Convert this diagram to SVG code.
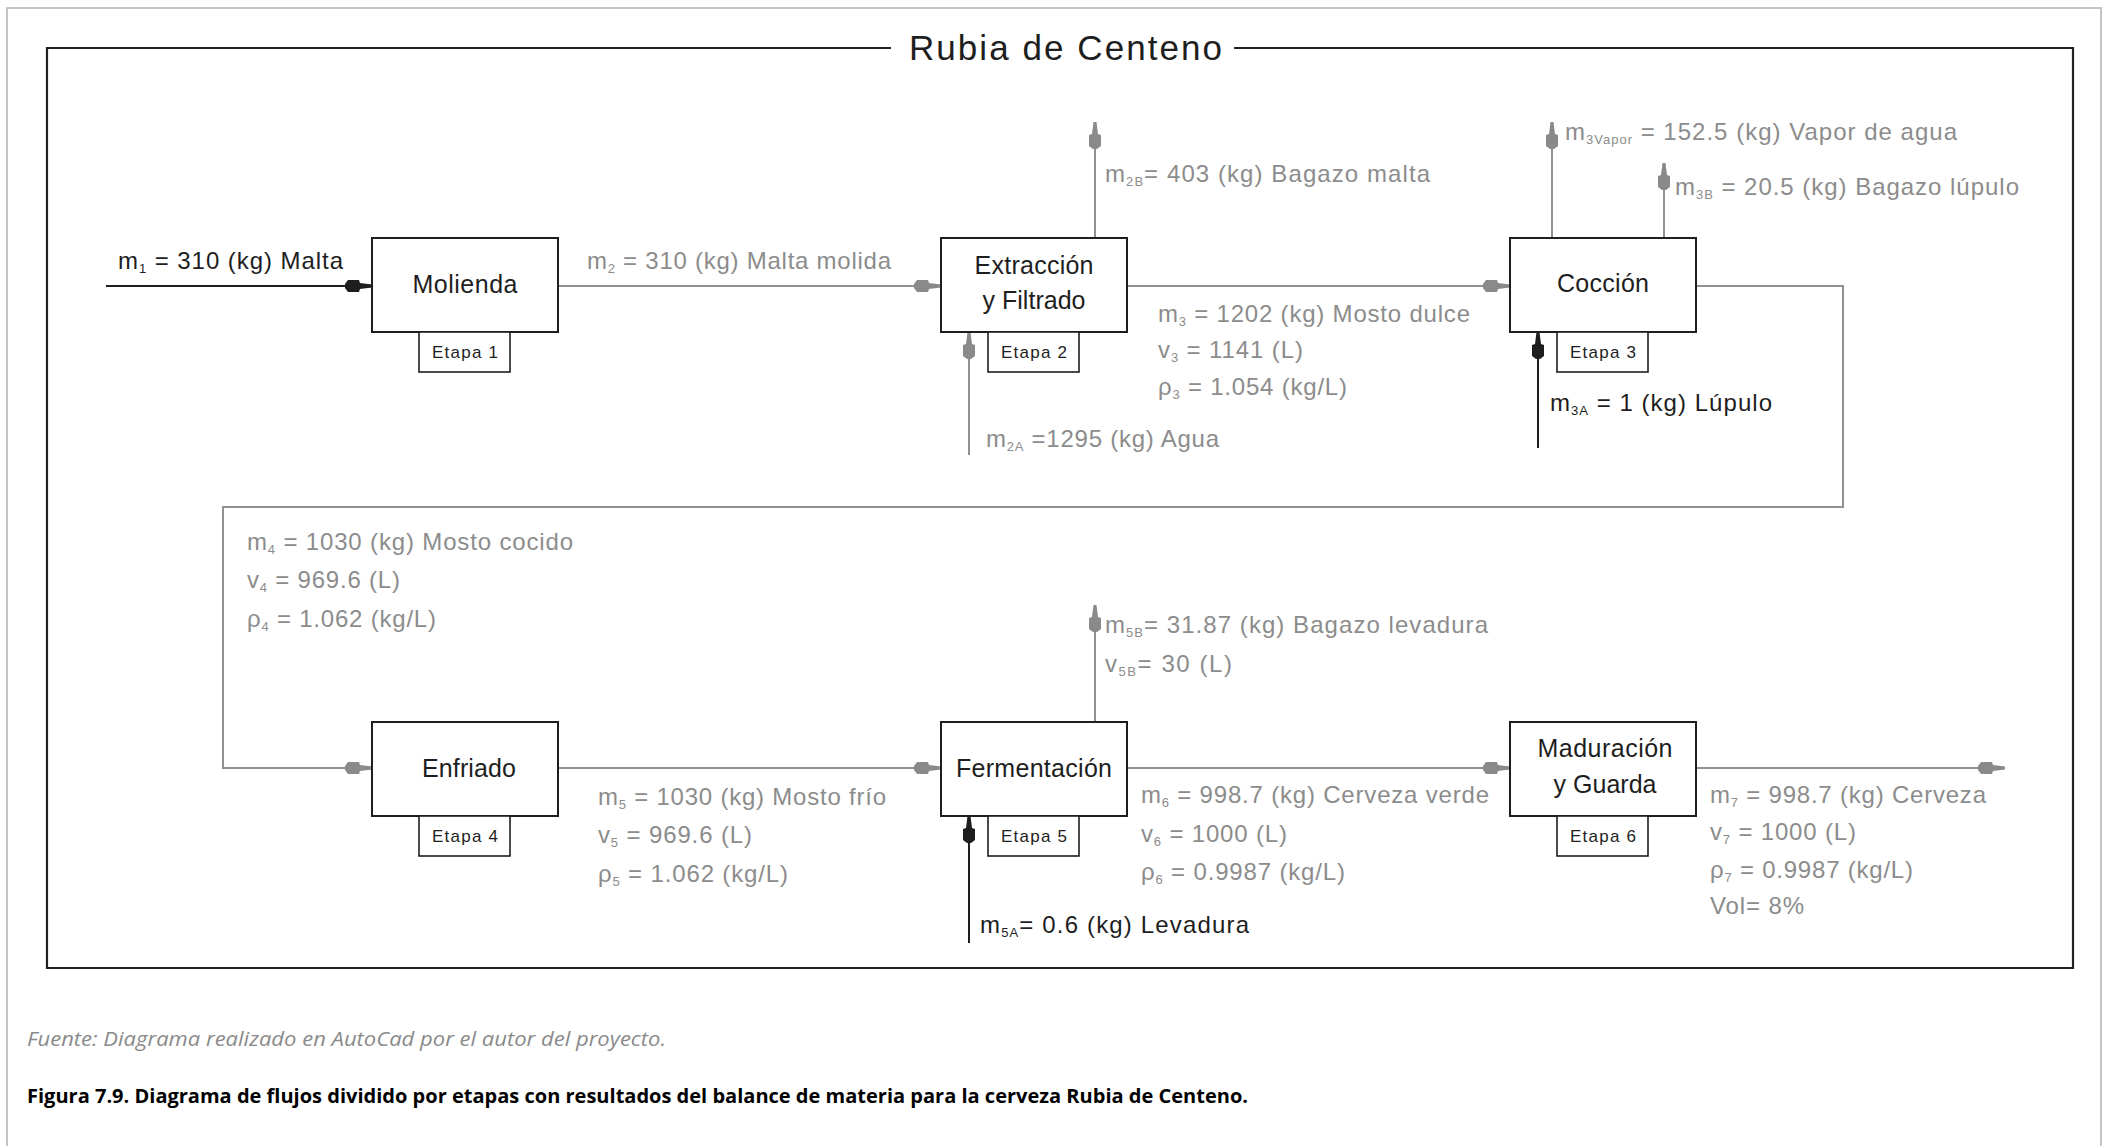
<svg xmlns="http://www.w3.org/2000/svg" width="2109" height="1146" viewBox="0 0 2109 1146">
<style>
text{font-family:"Liberation Sans",Arial,sans-serif}
.lg{font-size:24px;fill:#8c8c8c}
.lb{font-size:24px;fill:#1e1e1e}
.sub{font-size:13px}
.box{fill:#fff;stroke:#1e1e1e;stroke-width:2}
.et{fill:#fff;stroke:#1e1e1e;stroke-width:1.6}
.bl{font-size:25px;fill:#1e1e1e;text-anchor:middle}
.el{font-size:17px;fill:#1e1e1e;text-anchor:middle}
.cg{fill:none;stroke:#909090;stroke-width:2;marker-end:url(#ag)}
.cb{fill:none;stroke:#1e1e1e;stroke-width:2;marker-end:url(#ab)}
.foot{font-family:"Open Sans","Noto Sans",sans-serif}
</style>
<defs>
<marker id="ag" viewBox="-28 -7 29 14" refX="0" refY="0" markerWidth="29" markerHeight="14" markerUnits="userSpaceOnUse" orient="auto">
<path d="M0,-1.5 L-12,-3 L-13,-6 L-24,-6 L-27,-2 L-27,2 L-24,6 L-13,6 L-12,3 L0,1.5 Z" fill="#8a8a8a"/>
</marker>
<marker id="ab" viewBox="-28 -7 29 14" refX="0" refY="0" markerWidth="29" markerHeight="14" markerUnits="userSpaceOnUse" orient="auto">
<path d="M0,-1.5 L-12,-3 L-13,-6 L-24,-6 L-27,-2 L-27,2 L-24,6 L-13,6 L-12,3 L0,1.5 Z" fill="#1e1e1e"/>
</marker>
</defs>
<rect width="2109" height="1146" fill="#fff"/>
<path d="M7,1146 V8 H2101 V1146" fill="none" stroke="#c4c4c4" stroke-width="2"/>
<g id="frame">
<path d="M891,48 H47 V968 H2073 V48 H1234" fill="none" stroke="#222" stroke-width="2.2"/>
<text x="909" y="60" font-size="35" fill="#1e1e1e" textLength="313">Rubia de Centeno</text>
</g>

<g id="connectors">
<path class="cb" d="M106,286 H372"/>
<path class="cg" d="M558,286 H941"/>
<path class="cg" d="M1127,286 H1510"/>
<path class="cg" d="M969,455 V332"/>
<path class="cg" d="M1095,238 V122"/>
<path class="cg" d="M1552,238 V122"/>
<path class="cg" d="M1664,238 V163"/>
<path class="cb" d="M1538,448 V332"/>
<path class="cg" d="M1696,286 H1843 V507 H223 V768 H372"/>
<path class="cg" d="M558,768 H941"/>
<path class="cb" d="M969,943 V816"/>
<path class="cg" d="M1095,722 V605"/>
<path class="cg" d="M1127,768 H1510"/>
<path class="cg" d="M1696,768 H2005"/>
</g>

<g id="n1">
<rect class="box" x="372" y="238" width="186" height="94"/>
<text class="bl" x="465" y="293" textLength="105">Molienda</text>
<rect class="et" x="419" y="332" width="91" height="40"/>
<text class="el" x="465" y="358" textLength="66">Etapa 1</text>
</g>
<g id="n2">
<rect class="box" x="941" y="238" width="186" height="94"/>
<text class="bl" x="1034" y="274" textLength="119">Extracción</text>
<text class="bl" x="1034" y="309" textLength="103">y Filtrado</text>
<rect class="et" x="988" y="332" width="91" height="40"/>
<text class="el" x="1034" y="358" textLength="66">Etapa 2</text>
</g>
<g id="n3">
<rect class="box" x="1510" y="238" width="186" height="94"/>
<text class="bl" x="1603" y="292" textLength="92">Cocción</text>
<rect class="et" x="1557" y="332" width="91" height="40"/>
<text class="el" x="1603" y="358" textLength="66">Etapa 3</text>
</g>
<g id="n4">
<rect class="box" x="372" y="722" width="186" height="94"/>
<text class="bl" x="469" y="777" textLength="94">Enfriado</text>
<rect class="et" x="419" y="816" width="91" height="40"/>
<text class="el" x="465" y="842" textLength="66">Etapa 4</text>
</g>
<g id="n5">
<rect class="box" x="941" y="722" width="186" height="94"/>
<text class="bl" x="1034" y="777" textLength="156">Fermentación</text>
<rect class="et" x="988" y="816" width="91" height="40"/>
<text class="el" x="1034" y="842" textLength="66">Etapa 5</text>
</g>
<g id="n6">
<rect class="box" x="1510" y="722" width="186" height="94"/>
<text class="bl" x="1605" y="757" textLength="135">Maduración</text>
<text class="bl" x="1605" y="793" textLength="103">y Guarda</text>
<rect class="et" x="1557" y="816" width="91" height="40"/>
<text class="el" x="1603" y="842" textLength="66">Etapa 6</text>
</g>

<g id="labels">
<text class="lb" x="118" y="269" textLength="225">m<tspan class="sub" dy="4">1</tspan><tspan dy="-4"> = 310 (kg) Malta</tspan></text>
<text class="lg" x="587" y="269" textLength="304">m<tspan class="sub" dy="4">2</tspan><tspan dy="-4"> = 310 (kg) Malta molida</tspan></text>
<text class="lg" x="1105" y="182" textLength="325">m<tspan class="sub" dy="4">2B</tspan><tspan dy="-4">= 403 (kg) Bagazo malta</tspan></text>
<text class="lg" x="986" y="447" textLength="233">m<tspan class="sub" dy="4">2A</tspan><tspan dy="-4"> =1295 (kg) Agua</tspan></text>
<text class="lg" x="1158" y="322" textLength="312">m<tspan class="sub" dy="4">3</tspan><tspan dy="-4"> = 1202 (kg) Mosto dulce</tspan></text>
<text class="lg" x="1158" y="358" textLength="145">v<tspan class="sub" dy="4">3</tspan><tspan dy="-4"> = 1141 (L)</tspan></text>
<text class="lg" x="1158" y="395" textLength="189">ρ<tspan class="sub" dy="4">3</tspan><tspan dy="-4"> = 1.054 (kg/L)</tspan></text>
<text class="lg" x="1565" y="140" textLength="392">m<tspan class="sub" dy="4">3Vapor</tspan><tspan dy="-4"> = 152.5 (kg) Vapor de agua</tspan></text>
<text class="lg" x="1675" y="195" textLength="344">m<tspan class="sub" dy="4">3B</tspan><tspan dy="-4"> = 20.5 (kg) Bagazo lúpulo</tspan></text>
<text class="lb" x="1550" y="411" textLength="222">m<tspan class="sub" dy="4">3A</tspan><tspan dy="-4"> = 1 (kg) Lúpulo</tspan></text>
<text class="lg" x="247" y="550" textLength="326">m<tspan class="sub" dy="4">4</tspan><tspan dy="-4"> = 1030 (kg) Mosto cocido</tspan></text>
<text class="lg" x="247" y="588" textLength="153">v<tspan class="sub" dy="4">4</tspan><tspan dy="-4"> = 969.6 (L)</tspan></text>
<text class="lg" x="247" y="627" textLength="189">ρ<tspan class="sub" dy="4">4</tspan><tspan dy="-4"> = 1.062 (kg/L)</tspan></text>
<text class="lg" x="598" y="805" textLength="288">m<tspan class="sub" dy="4">5</tspan><tspan dy="-4"> = 1030 (kg) Mosto frío</tspan></text>
<text class="lg" x="598" y="843" textLength="154">v<tspan class="sub" dy="4">5</tspan><tspan dy="-4"> = 969.6 (L)</tspan></text>
<text class="lg" x="598" y="882" textLength="190">ρ<tspan class="sub" dy="4">5</tspan><tspan dy="-4"> = 1.062 (kg/L)</tspan></text>
<text class="lb" x="980" y="933" textLength="269">m<tspan class="sub" dy="4">5A</tspan><tspan dy="-4">= 0.6 (kg) Levadura</tspan></text>
<text class="lg" x="1105" y="633" textLength="383">m<tspan class="sub" dy="4">5B</tspan><tspan dy="-4">= 31.87 (kg) Bagazo levadura</tspan></text>
<text class="lg" x="1105" y="672" textLength="127">v<tspan class="sub" dy="4">5B</tspan><tspan dy="-4">= 30 (L)</tspan></text>
<text class="lg" x="1141" y="803" textLength="348">m<tspan class="sub" dy="4">6</tspan><tspan dy="-4"> = 998.7 (kg) Cerveza verde</tspan></text>
<text class="lg" x="1141" y="842" textLength="146">v<tspan class="sub" dy="4">6</tspan><tspan dy="-4"> = 1000 (L)</tspan></text>
<text class="lg" x="1141" y="880" textLength="204">ρ<tspan class="sub" dy="4">6</tspan><tspan dy="-4"> = 0.9987 (kg/L)</tspan></text>
<text class="lg" x="1710" y="803" textLength="276">m<tspan class="sub" dy="4">7</tspan><tspan dy="-4"> = 998.7 (kg) Cerveza</tspan></text>
<text class="lg" x="1710" y="840" textLength="146">v<tspan class="sub" dy="4">7</tspan><tspan dy="-4"> = 1000 (L)</tspan></text>
<text class="lg" x="1710" y="878" textLength="203">ρ<tspan class="sub" dy="4">7</tspan><tspan dy="-4"> = 0.9987 (kg/L)</tspan></text>
<text class="lg" x="1710" y="914" textLength="94">Vol= 8%</text>
</g>

<g id="caption">
<text class="foot" x="27" y="1046" font-size="20" font-style="italic" fill="#8a8a8a" textLength="639" lengthAdjust="spacingAndGlyphs">Fuente: Diagrama realizado en AutoCad por el autor del proyecto.</text>
<text class="foot" x="27" y="1103" font-size="20" font-weight="bold" fill="#000" textLength="1221" lengthAdjust="spacingAndGlyphs">Figura 7.9. Diagrama de flujos dividido por etapas con resultados del balance de materia para la cerveza Rubia de Centeno.</text>
</g>
</svg>
